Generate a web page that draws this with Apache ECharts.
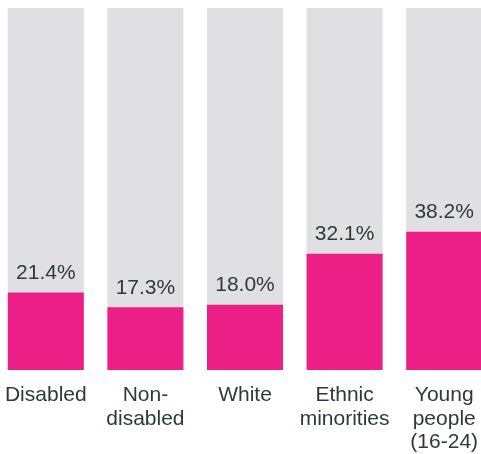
<!DOCTYPE html>
<html>
<head>
<meta charset="utf-8">
<script src="https://cdn.jsdelivr.net/npm/echarts@6/dist/echarts.min.js"></script>
<style>
  html, body { margin: 0; padding: 0; background: #ffffff; overflow: hidden; }
  #chart { position: absolute; left: -3.75px; top: 0; width: 497.5px; height: 454px; }
</style>
</head>
<body>
<div id="chart"></div>
<script>
// Share of each group, in percent
var categories = ['Disabled', 'Non-\ndisabled', 'White', 'Ethnic\nminorities', 'Young\npeople\n(16-24)'];
var values = [21.4, 17.3, 18.0, 32.1, 38.2];

var textColor = '#2b3a3f';
var chart = echarts.init(document.getElementById('chart'), null, { renderer: 'canvas' });

chart.setOption({
  animation: false,
  grid: { left: 0, right: 0, top: 8, bottom: 83.3, containLabel: false },
  xAxis: {
    type: 'category',
    data: categories,
    axisLine: { show: false },
    axisTick: { show: false },
    axisLabel: {
      interval: 0,
      margin: 13.5,
      color: textColor,
      fontFamily: 'Liberation Sans, Arial, sans-serif',
      fontSize: 21,
      lineHeight: 23.5
    }
  },
  yAxis: {
    type: 'value',
    min: 0,
    max: 100,
    show: false,
    splitLine: { show: false }
  },
  series: [{
    type: 'bar',
    data: values,
    barWidth: 76,
    showBackground: true,
    backgroundStyle: { color: '#e0e0e2' },
    itemStyle: { color: '#ec1f87' },
    label: {
      show: true,
      position: 'top',
      distance: 9,
      color: textColor,
      fontFamily: 'Liberation Sans, Arial, sans-serif',
      fontSize: 21,
      formatter: function (p) { return p.value.toFixed(1) + '%'; }
    }
  }]
});
</script>
</body>
</html>
